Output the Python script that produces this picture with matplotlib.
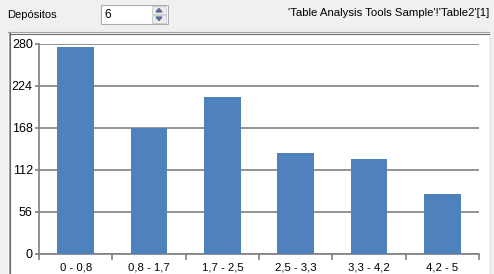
import numpy as np
import matplotlib.pyplot as plt
from matplotlib.patches import Rectangle, Polygon

# Data
categorias = ['0 - 0,8', '0,8 - 1,7', '1,7 - 2,5', '2,5 - 3,3', '3,3 - 4,2', '4,2 - 5']
valores = [276, 168, 210, 135, 127, 80]
y_ticks = [0, 56, 112, 168, 224, 280]

W, H = 494, 274
plt.rcParams['font.family'] = ['Liberation Sans', 'DejaVu Sans']

fig = plt.figure(figsize=(W / 100, H / 100), dpi=100)
fig.patch.set_facecolor('#F0F0F0')


def px(x, y, w, h):
    # pixel box (top-left origin) -> figure fraction
    return (x / W, 1 - (y + h) / H, w / W, h / H)


def rect(x, y, w, h, z=1, **kw):
    l, b, ww, hh = px(x, y, w, h)
    fig.patches.append(Rectangle((l, b), ww, hh, transform=fig.transFigure, zorder=z, **kw))


def vline(xp, y0, y1, c):
    fig.add_artist(plt.Line2D([xp / W, xp / W], [1 - y1 / H, 1 - y0 / H], color=c, lw=0.8, zorder=-1))


def hline(yp, x0, x1, c):
    fig.add_artist(plt.Line2D([x0 / W, x1 / W], [1 - yp / H, 1 - yp / H], color=c, lw=0.8, zorder=-1))


# panel of the chart
rect(8, 32, 481, 250, z=-2, facecolor='white', edgecolor='none')
hline(32.5, 8, 489, '#A0A0A0')
hline(33.5, 9, 489, '#696969')
vline(8.5, 32, 280, '#A0A0A0')
vline(9.5, 33, 280, '#696969')
vline(489.5, 32, 280, '#E3E3E3')

# header
fig.text(7 / W, 1 - 15 / H, 'Depósitos', fontsize=8, va='center', ha='left', color='black')
rect(101, 5, 67, 19, facecolor='white', edgecolor='#ABADB3', lw=0.8)
fig.text(104 / W, 1 - 15 / H, '6', fontsize=8.5, va='center', ha='left', color='black')
rect(152, 6, 14, 8, facecolor='#ECECEC', edgecolor='#C8C8C8', lw=0.6)
rect(152, 15, 14, 8, facecolor='#ECECEC', edgecolor='#C8C8C8', lw=0.6)
up = [(156 / W, 1 - 12 / H), (162 / W, 1 - 12 / H), (159 / W, 1 - 8.5 / H)]
dn = [(156 / W, 1 - 17 / H), (162 / W, 1 - 17 / H), (159 / W, 1 - 20.5 / H)]
fig.patches.append(Polygon(up, closed=True, transform=fig.transFigure, color='#5A6E9A'))
fig.patches.append(Polygon(dn, closed=True, transform=fig.transFigure, color='#5A6E9A'))
fig.text(489 / W, 1 - 13 / H, "'Table Analysis Tools Sample'!'Table2'[1]", fontsize=8.2,
         va='center', ha='right', color='black')

# chart
ax = fig.add_axes(px(39, 44, 440, 210))
ax.set_zorder(2)
ax.set_facecolor('white')
x = np.arange(len(categorias))
ax.bar(x, valores, width=0.5, color='#4F81BD', zorder=3)
ax.set_xlim(-0.5, len(categorias) - 0.5)
ax.set_ylim(0, 280)
ax.set_yticks(y_ticks)
ax.set_yticklabels([str(v) for v in y_ticks])
ax.yaxis.grid(True, color='#808080', lw=1.2)
ax.set_axisbelow(True)
ax.set_xticks(x)
ax.set_xticklabels(categorias)
ax.set_xticks(np.arange(len(categorias) + 1) - 0.5, minor=True)
ax.tick_params(axis='x', which='major', length=0, pad=6, labelsize=8.2)
ax.tick_params(axis='x', which='minor', length=4, width=1.2, color='#808080')
ax.tick_params(axis='y', length=3, width=1.2, color='#808080', pad=1.5, labelsize=9)
for s in ['top', 'right']:
    ax.spines[s].set_visible(False)
for s in ['left', 'bottom']:
    ax.spines[s].set_color('#808080')
    ax.spines[s].set_linewidth(1.2)

fig.savefig('out.png', dpi=100, facecolor=fig.get_facecolor())
